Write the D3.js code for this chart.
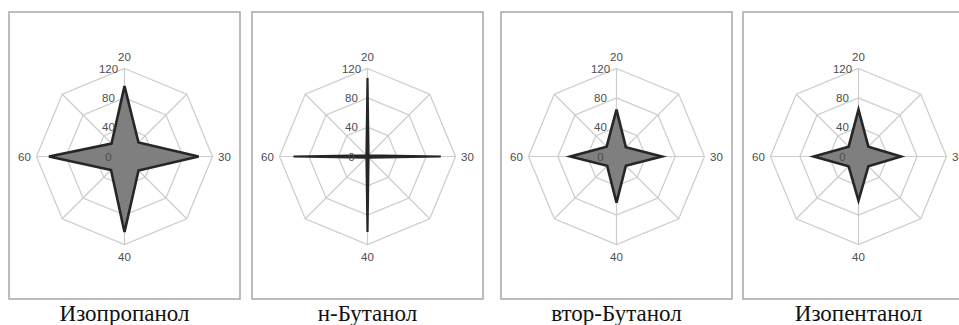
<!DOCTYPE html>
<html><head><meta charset="utf-8">
<script src="https://cdn.jsdelivr.net/npm/d3@7"></script>
<style>body{margin:0;background:#fff;}svg{display:block;}</style>
</head><body>
<svg id="c" width="959" height="325"></svg>
<script>
const categories = ["20", "", "30", "", "40", "", "60", ""];
const tickValues = [0, 40, 80, 120];
const names = ["Изопропанол", "н-Бутанол", "втор-Бутанол", "Изопентанол"];
const isopropanol = [96, 27, 101, 27, 103, 26, 103, 25];
const nButanol = [107, 2, 100, 2, 103, 2, 101, 2];
const secButanol = [64, 18, 62, 18, 63, 18, 63, 19];
const isopentanol = [64, 19, 58, 19, 60, 19, 61, 19];
const seriesList = [isopropanol, nButanol, secButanol, isopentanol];

const svg = d3.select("#c");
const panelX = [9, 252, 501, 743];
const panelW = 231, panelTop = 12, panelH = 287;
const cyOff = 144.5;
const R = 88;
const r = d3.scaleLinear().domain([0, 120]).range([0, R]);
const angle = d3.scaleLinear().domain([0, categories.length]).range([0, 2 * Math.PI]);

seriesList.forEach((vals, k) => {
  const px = panelX[k];
  const cx = px + panelW / 2, cy = panelTop + cyOff;
  const g = svg.append("g");
  g.append("rect").attr("x", px).attr("y", panelTop).attr("width", panelW).attr("height", panelH)
    .attr("fill", "#fff").attr("stroke", "#a6a6a6").attr("stroke-width", 1.5);
  const c = g.append("g").attr("transform", `translate(${cx},${cy})`);
  const pt = (i, v) => [Math.sin(angle(i)) * r(v), -Math.cos(angle(i)) * r(v)];
  tickValues.filter(t => t > 0).forEach(t => {
    c.append("path")
      .attr("d", d3.line()(categories.map((_, i) => pt(i, t))) + "Z")
      .attr("fill", "none").attr("stroke", "#cccccc").attr("stroke-width", 1.2);
  });
  categories.forEach((_, i) => {
    const p = pt(i, 120);
    c.append("line").attr("x1", 0).attr("y1", 0).attr("x2", p[0]).attr("y2", p[1])
      .attr("stroke", "#cccccc").attr("stroke-width", 1.2);
  });
  c.append("path")
    .attr("d", d3.line()(vals.map((v, i) => pt(i, v))) + "Z")
    .attr("fill", k === 1 ? "#6e6e6e" : "#7f7f7f")
    .attr("stroke", "#262626").attr("stroke-width", k === 1 ? 2.2 : 2.6)
    .attr("stroke-linejoin", "miter");
  tickValues.forEach(t => {
    c.append("text").attr("x", -16).attr("y", -r(t)).attr("dy", "0.35em")
      .attr("text-anchor", "middle").attr("font-family", "Liberation Sans, Arial, sans-serif")
      .attr("font-size", 11.5).attr("fill", "#4d4d4d").text(t);
  });
  categories.forEach((lab, i) => {
    if (!lab) return;
    const a = angle(i);
    const d = R + 12;
    c.append("text").attr("x", Math.sin(a) * d).attr("y", -Math.cos(a) * d).attr("dy", "0.35em")
      .attr("text-anchor", "middle").attr("font-family", "Liberation Sans, Arial, sans-serif")
      .attr("font-size", 11.5).attr("fill", "#4d4d4d").text(lab);
  });
  svg.append("text").attr("x", cx).attr("y", 321).attr("text-anchor", "middle")
    .attr("font-family", "Liberation Serif, Times New Roman, serif").attr("font-size", 23)
    .attr("fill", "#111").text(names[k]);
});
</script>
</body></html>
